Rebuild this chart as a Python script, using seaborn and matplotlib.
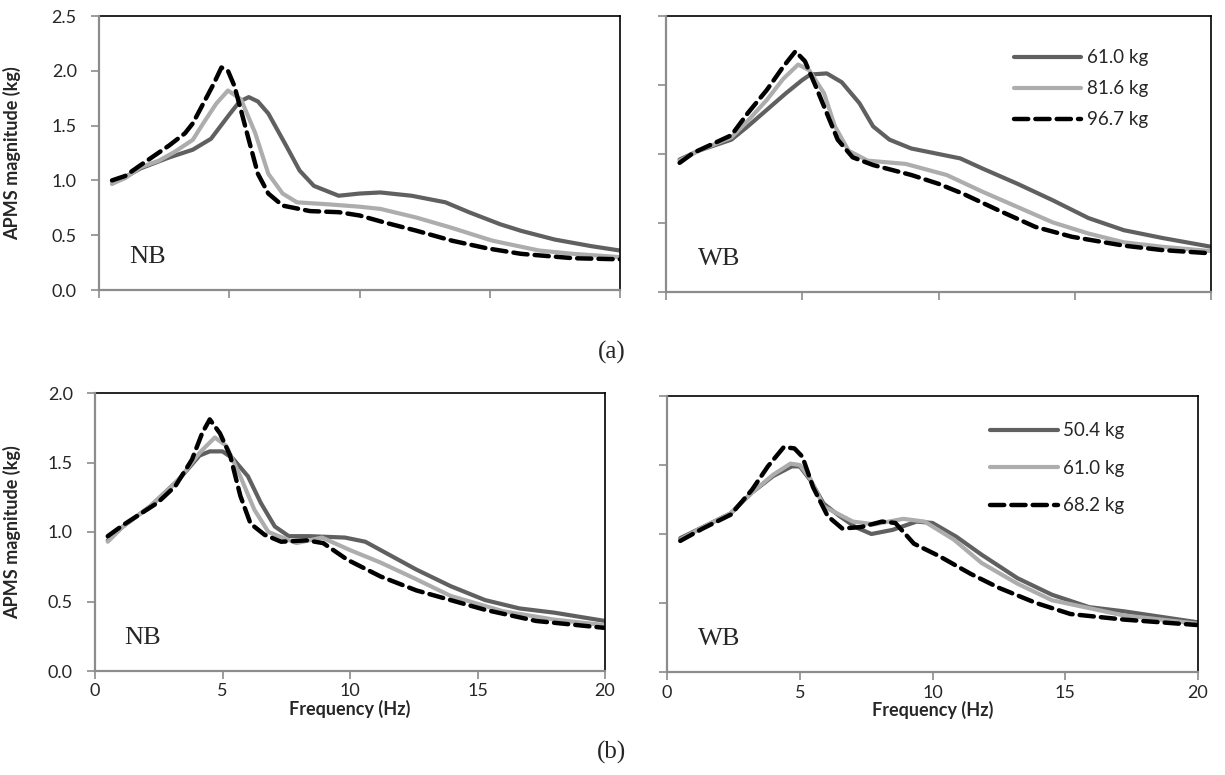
import matplotlib
matplotlib.use("Agg")
import matplotlib.pyplot as plt
import seaborn as sns
import numpy as np

# ---------------- data ----------------
# (a) NB
a_nb_x1 = [0.5, 1.0, 1.6, 2.7, 3.6, 4.3, 5.0, 5.4, 5.75, 6.1, 6.5, 7.2, 7.7, 8.25, 9.2, 10.0, 10.8, 12.0, 13.3, 14.2, 15.4, 16.2, 17.5, 18.9, 20.0]
a_nb_y1 = [0.97, 1.03, 1.11, 1.21, 1.28, 1.38, 1.60, 1.72, 1.76, 1.72, 1.61, 1.31, 1.09, 0.95, 0.86, 0.88, 0.89, 0.86, 0.80, 0.71, 0.60, 0.54, 0.46, 0.40, 0.36]
a_nb_x2 = [0.5, 1.0, 1.6, 2.3, 2.9, 3.6, 4.0, 4.5, 4.95, 5.45, 6.0, 6.5, 7.05, 7.6, 8.9, 10.0, 10.8, 12.2, 13.5, 15.1, 16.9, 18.2, 20.0]
a_nb_y2 = [0.97, 1.02, 1.12, 1.18, 1.26, 1.37, 1.52, 1.70, 1.82, 1.74, 1.43, 1.06, 0.88, 0.80, 0.78, 0.76, 0.74, 0.66, 0.57, 0.45, 0.36, 0.33, 0.30]
a_nb_x3 = [0.5, 1.0, 1.6, 2.7, 3.3, 3.6, 4.0, 4.4, 4.7, 4.95, 5.2, 5.45, 5.75, 6.1, 6.5, 7.05, 8.1, 9.2, 10.0, 10.9, 12.2, 13.55, 14.9, 16.2, 18.2, 20.0]
a_nb_y3 = [1.0, 1.04, 1.14, 1.32, 1.43, 1.52, 1.70, 1.88, 2.03, 2.0, 1.86, 1.64, 1.37, 1.06, 0.88, 0.77, 0.72, 0.71, 0.68, 0.62, 0.54, 0.45, 0.38, 0.33, 0.29, 0.28]

# (a) WB
a_wb_x1 = [0.5, 1.2, 2.4, 3.0, 3.7, 4.4, 5.0, 5.3, 5.9, 6.45, 7.1, 7.6, 8.2, 9.0, 10.0, 10.8, 11.6, 12.9, 14.2, 15.5, 16.8, 18.2, 20.0]
a_wb_y1 = [1.20, 1.28, 1.38, 1.50, 1.65, 1.80, 1.92, 1.97, 1.98, 1.90, 1.71, 1.50, 1.38, 1.30, 1.25, 1.21, 1.12, 0.98, 0.83, 0.67, 0.56, 0.49, 0.41]
a_wb_x2 = [0.5, 1.2, 2.4, 3.0, 3.7, 4.3, 4.85, 5.25, 5.8, 6.2, 6.7, 7.4, 8.8, 10.3, 11.6, 12.9, 14.2, 15.5, 16.8, 18.2, 20.0]
a_wb_y2 = [1.19, 1.28, 1.40, 1.55, 1.74, 1.93, 2.06, 2.01, 1.80, 1.50, 1.28, 1.19, 1.16, 1.06, 0.91, 0.77, 0.63, 0.53, 0.45, 0.41, 0.37]
a_wb_x3 = [0.5, 1.0, 1.7, 2.4, 3.0, 3.7, 4.3, 4.75, 5.1, 5.5, 5.9, 6.3, 6.85, 7.6, 9.0, 10.0, 10.9, 12.2, 13.55, 14.9, 16.8, 18.2, 20.0]
a_wb_y3 = [1.17, 1.26, 1.34, 1.42, 1.62, 1.83, 2.04, 2.18, 2.09, 1.86, 1.62, 1.38, 1.22, 1.15, 1.06, 0.98, 0.89, 0.74, 0.59, 0.50, 0.42, 0.38, 0.35]

# (b) NB
b_nb_x1 = [0.5, 1.1, 2.2, 3.3, 4.1, 4.5, 5.0, 5.4, 6.0, 6.5, 7.05, 7.6, 8.4, 9.8, 10.6, 11.5, 12.6, 13.95, 15.3, 16.65, 18.0, 20.0]
b_nb_y1 = [0.94, 1.04, 1.19, 1.38, 1.55, 1.58, 1.58, 1.53, 1.40, 1.21, 1.04, 0.97, 0.97, 0.96, 0.93, 0.84, 0.73, 0.61, 0.51, 0.45, 0.42, 0.36]
b_nb_x2 = [0.5, 1.1, 2.2, 3.3, 4.1, 4.7, 5.15, 5.7, 6.25, 6.8, 7.9, 8.9, 10.0, 11.2, 12.6, 13.95, 16.0, 18.0, 20.0]
b_nb_y2 = [0.93, 1.04, 1.19, 1.38, 1.57, 1.68, 1.62, 1.40, 1.16, 1.00, 0.92, 0.96, 0.87, 0.78, 0.66, 0.54, 0.43, 0.37, 0.33]
b_nb_x3 = [0.5, 1.1, 2.45, 3.15, 3.8, 4.2, 4.5, 4.9, 5.3, 5.7, 6.1, 6.65, 7.3, 8.3, 8.95, 9.9, 11.2, 12.6, 13.95, 15.3, 17.3, 20.0]
b_nb_y3 = [0.97, 1.05, 1.21, 1.33, 1.52, 1.71, 1.81, 1.71, 1.55, 1.26, 1.06, 0.98, 0.93, 0.94, 0.92, 0.80, 0.68, 0.58, 0.51, 0.44, 0.36, 0.31]

# (b) WB
b_wb_x1 = [0.5, 1.35, 2.4, 3.2, 4.0, 4.7, 5.0, 5.4, 5.9, 6.5, 7.1, 7.7, 8.5, 9.4, 10.0, 10.9, 11.85, 13.2, 14.5, 15.9, 17.2, 18.6, 20.0]
b_wb_y1 = [0.97, 1.05, 1.15, 1.30, 1.42, 1.49, 1.49, 1.39, 1.22, 1.13, 1.05, 1.00, 1.03, 1.09, 1.08, 0.98, 0.85, 0.68, 0.56, 0.47, 0.44, 0.40, 0.36]
b_wb_x2 = [0.5, 1.35, 2.4, 3.2, 4.0, 4.65, 5.0, 5.4, 5.9, 7.0, 7.8, 8.9, 9.7, 10.8, 11.85, 13.2, 14.5, 17.2, 20.0]
b_wb_y2 = [0.96, 1.05, 1.15, 1.30, 1.43, 1.51, 1.50, 1.40, 1.20, 1.09, 1.07, 1.11, 1.09, 0.96, 0.79, 0.64, 0.52, 0.41, 0.35]
b_wb_x3 = [0.5, 1.35, 2.4, 3.2, 3.8, 4.4, 4.8, 5.1, 5.5, 6.05, 6.6, 7.3, 8.1, 8.6, 9.3, 10.25, 11.45, 12.5, 13.9, 15.2, 17.2, 20.0]
b_wb_y3 = [0.95, 1.04, 1.14, 1.32, 1.49, 1.63, 1.62, 1.56, 1.34, 1.13, 1.04, 1.05, 1.09, 1.08, 0.93, 0.84, 0.71, 0.61, 0.50, 0.42, 0.38, 0.34]

labels_a = ["61.0 kg", "81.6 kg", "96.7 kg"]
labels_b = ["50.4 kg", "61.0 kg", "68.2 kg"]
panel_names = ["NB", "WB", "NB", "WB"]
x_ticks = [0, 5, 10, 15, 20]
row_labels = ["(a)", "(b)"]

# ---------------- style ----------------
sns.set_theme(style="white")
plt.rcParams["font.family"] = ["Lato", "DejaVu Sans"]

fig = plt.figure(figsize=(12.25, 7.75), dpi=100)

rects = [
    (99, 16, 620, 290),
    (666, 16, 1211, 292),
    (95, 393, 605, 671),
    (667, 396, 1198, 672),
]
W, H = 1225.0, 775.0
axes = []
for (x0, y0, x1, y1) in rects:
    ax = fig.add_axes([x0 / W, 1 - y1 / H, (x1 - x0) / W, (y1 - y0) / H])
    axes.append(ax)

dark = "#606060"
light = "#adadad"
styles = [
    dict(color=dark, lw=3.0, ls="-"),
    dict(color=light, lw=3.0, ls="-"),
    dict(color="black", lw=3.2, ls=(0, (3.2, 1.6))),
]

series = [
    [(a_nb_x1, a_nb_y1), (a_nb_x2, a_nb_y2), (a_nb_x3, a_nb_y3)],
    [(a_wb_x1, a_wb_y1), (a_wb_x2, a_wb_y2), (a_wb_x3, a_wb_y3)],
    [(b_nb_x1, b_nb_y1), (b_nb_x2, b_nb_y2), (b_nb_x3, b_nb_y3)],
    [(b_wb_x1, b_wb_y1), (b_wb_x2, b_wb_y2), (b_wb_x3, b_wb_y3)],
]
labs = [labels_a, labels_a, labels_b, labels_b]

for i, ax in enumerate(axes):
    for j, (xs, ys) in enumerate(series[i]):
        st = styles[j]
        sns.lineplot(x=xs, y=ys, ax=ax, color=st["color"], linewidth=st["lw"],
                     linestyle=st["ls"], label=labs[i][j], sort=False,
                     estimator=None)
    for ln in ax.lines:
        ln.set_dash_capstyle("round")
        ln.set_solid_capstyle("round")
        ln.set_solid_joinstyle("round")
    ax.set_xlim(0, 20)
    ax.set_xticks(x_ticks)
    if i < 2:
        ax.set_ylim(0, 2.5)
    else:
        ax.set_ylim(0, 2.0)
    if i == 0:
        ax.set_yticks([0, 0.5, 1.0, 1.5, 2.0, 2.5])
    elif i == 1:
        ax.set_yticks(np.linspace(0, 2.5, 5))
    else:
        ax.set_yticks([0, 0.5, 1.0, 1.5, 2.0])
    if i in (0, 2):
        ax.set_yticklabels([f"{t:.1f}" for t in ax.get_yticks()], fontsize=13)
        ax.set_ylabel("APMS magnitude (kg)", fontsize=13, fontweight="bold")
    else:
        ax.set_yticklabels([])
        ax.set_ylabel("")
    if i >= 2:
        ax.set_xticklabels([str(t) for t in x_ticks], fontsize=13)
        ax.set_xlabel("Frequency (Hz)", fontsize=13, fontweight="bold", labelpad=0)
    else:
        ax.set_xticklabels([])
        ax.set_xlabel("")
    ax.tick_params(axis="both", which="major", direction="out", length=6, width=1.2,
                   color="#8c8c8c", left=True, bottom=True)
    ax.tick_params(axis="x", pad=3)
    ax.tick_params(axis="y", pad=10)
    for side in ("left", "bottom"):
        ax.spines[side].set_color("#8c8c8c")
        ax.spines[side].set_linewidth(1.6)
        ax.spines[side].set_zorder(5)
    for side in ("top", "right"):
        ax.spines[side].set_color("black")
        ax.spines[side].set_linewidth(1.2)
    for side in ax.spines:
        ax.spines[side].set_visible(True)
    ax.text(0.058, 0.12, panel_names[i], transform=ax.transAxes,
            fontsize=19, family="Liberation Serif", va="center", ha="left")
    if i in (1, 3):
        ax.legend(loc="upper right", frameon=False, fontsize=13.5,
                  handlelength=3.6, handletextpad=0.3,
                  labelspacing=0.75 if i == 1 else 1.1,
                  borderaxespad=0, borderpad=0,
                  bbox_to_anchor=(0.885 if i == 1 else 0.862, 0.88 if i == 1 else 0.905))
    else:
        lg = ax.get_legend()
        if lg is not None:
            lg.remove()

axes[0].yaxis.set_label_coords(-78 / 521, 0.5)
axes[2].yaxis.set_label_coords(-74 / 510, 0.5)

fig.text(612 / W, 1 - 352 / H, row_labels[0], fontsize=18, family="Liberation Serif",
         ha="center", va="center")
fig.text(612 / W, 1 - 752 / H, row_labels[1], fontsize=18, family="Liberation Serif",
         ha="center", va="center")

fig.savefig("out.png", dpi=100)
